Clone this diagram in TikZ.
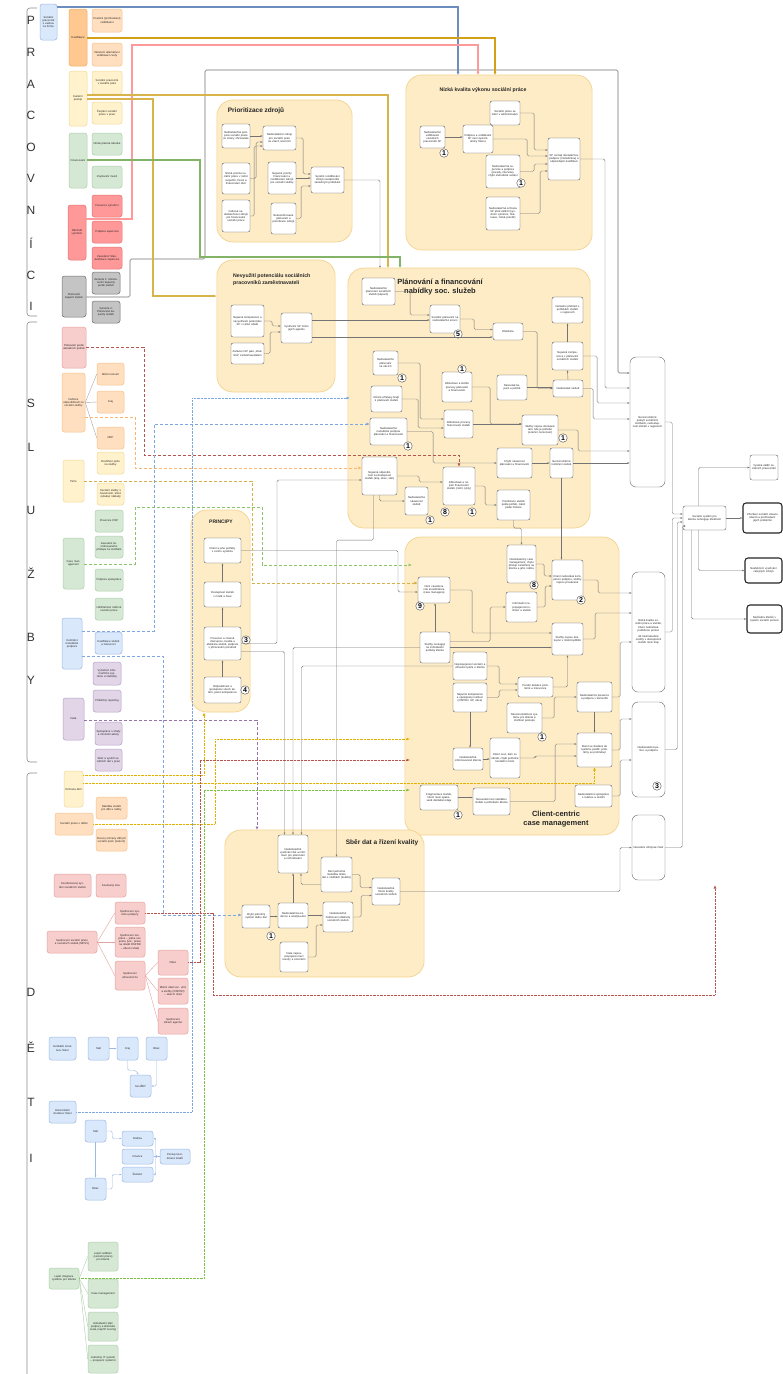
\documentclass[tikz,border=0pt]{standalone}
\usepackage{fontspec}
\setmainfont{Liberation Sans}
\usetikzlibrary{arrows.meta}
\definecolor{orF}{HTML}{FFC890}\definecolor{orD}{HTML}{F0AC68}
\definecolor{olF}{HTML}{FFDFC0}\definecolor{olD}{HTML}{F5C28F}
\definecolor{yeF}{HTML}{FFF2CC}\definecolor{yeD}{HTML}{F0DA98}
\definecolor{grF}{HTML}{D5E8D4}\definecolor{grD}{HTML}{AFCFAA}
\definecolor{rdF}{HTML}{FF9999}\definecolor{rdD}{HTML}{E87070}
\definecolor{pkF}{HTML}{F8CECC}\definecolor{pkD}{HTML}{E3A3A0}
\definecolor{gyF}{HTML}{C4C4C4}\definecolor{gyD}{HTML}{707070}
\definecolor{blF}{HTML}{DAE8FC}\definecolor{blD}{HTML}{9DB9E3}
\definecolor{puF}{HTML}{E1D5E7}\definecolor{puD}{HTML}{B8A2C8}
\definecolor{grpF}{HTML}{FDECC6}\definecolor{grpD}{HTML}{F3D38E}
\definecolor{lnBlue}{HTML}{6C8EBF}\definecolor{lnGold}{HTML}{D4A017}
\definecolor{lnGold2}{HTML}{D9B44A}\definecolor{lnPink}{HTML}{FF9A9A}
\definecolor{lnGreen}{HTML}{82B366}
\definecolor{dRed}{HTML}{B85450}\definecolor{dOr}{HTML}{FFB570}
\definecolor{dGold}{HTML}{D6B04A}\definecolor{dGreen}{HTML}{8CC46A}
\definecolor{dBlue}{HTML}{7EA6E0}\definecolor{dPur}{HTML}{9673A6}
\definecolor{dtGold}{HTML}{E3B000}\definecolor{dtGreen}{HTML}{7DC142}
\newcommand\mybox[7]{%
 \pgfmathsetmacro\mbW{#5-#3}\pgfmathsetmacro\mbH{#6-#4}%
 \pgfmathsetmacro\mbX{(#3+#5)/2}\pgfmathsetmacro\mbY{(#4+#6)/2}%
 \pgfmathsetmacro\mbT{max(#5-#3-2.4,2)}%
 \node[#1,minimum width=\mbW pt,minimum height=\mbH pt,text width=\mbT pt] (#2) at (\mbX,\mbY) {#7};}
\tikzset{
 lt/.style={font=\fontsize{2.75}{3.15}\selectfont, align=center, inner sep=0.6pt, text=black!85},
 wb/.style={lt, draw=black!70, fill=white, rounded corners=2pt, line width=0.35pt},
 wbr/.style={lt, draw=black!60, fill=white, rounded corners=6pt, line width=0.4pt},
 wbt/.style={lt, draw=black!85, fill=white, rounded corners=3pt, line width=1.1pt},
 lc/.style 2 args={lt, draw=#2, fill=#1, rounded corners=2.5pt, line width=0.5pt},
 grp/.style={draw=grpD, fill=grpF, rounded corners=16pt, line width=0.7pt},
 gtitle/.style={font=\fontsize{6.5}{7.5}\bfseries\selectfont, align=center, text=black!85, inner sep=0pt},
 badge/.style={circle, draw=black!70, fill=white, inner sep=0pt, minimum size=8.5pt, font=\fontsize{7}{7}\bfseries\selectfont},
 letter/.style={font=\fontsize{12}{12}\selectfont, text=black!80, inner sep=0pt},
 brk/.style={draw=black!45, line width=0.6pt, rounded corners=3pt},
 gl/.style={draw=black!55, line width=0.4pt, -{Latex[length=2.2pt,width=1.8pt]}, rounded corners=1.5pt},
 cl/.style={line width=1.1pt, -{Latex[length=3pt,width=3pt]}},
 dl/.style={line width=1pt, dash pattern=on 3pt off 2pt, -{Latex[length=3.5pt,width=3pt]}},
 ol/.style={line width=1pt, dash pattern=on 0.6pt off 0.8pt, -{Latex[length=3.5pt,width=3pt]}},
 sl/.style={draw=black!35, line width=0.4pt},
}
\begin{document}
\begin{tikzpicture}[x=1pt,y=-1pt]
\useasboundingbox[fill=white] (0,0) rectangle (783,1374);
% ---------- brackets and letters
\draw[brk] (37,8) -- (27,8) -- (27,316) -- (37,316);
\draw[brk] (37,322) -- (27,322) -- (27,762) -- (37,762);
\draw[brk] (37,773) -- (27,773) -- (27,1380);
\foreach \l/\yy [count=\i] in {P/20,R/52,A/84,C/115,O/147,V/178,N/210,Í/243,C/275,I/306}
  \node[letter] (lp\i) at (31,\yy) {\l};
\foreach \l/\yy [count=\i] in {S/403,L/447,U/510,Ž/573,B/637,Y/680}
  \node[letter] (ls\i) at (31,\yy) {\l};
\foreach \l/\yy [count=\i] in {D/992,Ě/1047,T/1102,I/1158}
  \node[letter] (ld\i) at (31,\yy) {\l};
% ---------- PRACOVNICI
\mybox{lc={blF}{blD}}{L0}{40}{4}{57}{40}{Sociální pracovník s vazbou na formu}
\mybox{lc={orF}{orD}}{L1}{69}{9}{87}{66}{Kvalifikace}
\mybox{lc={olF}{olD}}{L1a}{92}{9}{122}{32}{Posílení (prohloubení) vzdělávání}
\mybox{lc={olF}{olD}}{L1b}{92}{43}{122}{66}{Zkrácení alternativní vzdělávací cesty}
\mybox{lc={yeF}{yeD}}{L2}{69}{71}{87}{126}{Kariérní postup}
\mybox{lc={yeF}{yeD}}{L2a}{92}{71}{122}{94}{Sociální pracovník v sociální práci}
\mybox{lc={yeF}{yeD}}{L2b}{92}{102}{122}{124}{Čerpání sociální práce v praxi}
\mybox{lc={grF}{grD}}{L3}{69}{133}{87}{188}{Financování}
\mybox{lc={grF}{grD}}{L3a}{92}{133}{122}{155}{Nízká platová tabulka}
\mybox{lc={grF}{grD}}{L3b}{92}{166}{122}{188}{Zvyšování mezd}
\mybox{lc={rdF}{rdD}}{L4}{68}{205}{86}{260}{Odchod/ vyhoření}
\mybox{lc={rdF}{rdD}}{L4a}{92}{195}{122}{217}{Prevence vyhoření}
\mybox{lc={rdF}{rdD}}{L4b}{92}{221}{122}{243}{Podpora supervize}
\mybox{lc={rdF}{rdD}}{L4c}{92}{247}{122}{269}{Zavedení/ Standardizace supervize}
\mybox{lc={gyF}{gyD}}{L5}{62}{276}{86}{317}{Plánování kapacit služeb}
\mybox{lc={gyF}{gyD}}{L5a}{92}{272}{120}{294}{Varianta 1: Meziresortní kapacity podle služeb}
\mybox{lc={gyF}{gyD}}{L5b}{92}{301}{120}{323}{Varianta 2: Plánované kapacity služeb}
% ---------- SLUZBY
\mybox{lc={pkF}{pkD}}{S1}{62}{327}{86}{368}{Plánování podle aktuálních potřeb}
\mybox{lc={olF}{olD}}{S2}{62}{373}{85}{432}{Definice odpovědnosti za sociální služby}
\mybox{lc={olF}{olD}}{S2a}{97}{363}{124}{385}{Místní úroveň}
\mybox{lc={olF}{olD}}{S2b}{97}{391}{124}{413}{Kraj}
\mybox{lc={olF}{olD}}{S2c}{97}{427}{124}{449}{ORP}
\draw[sl] (S2.east) -- (S2a.west); \draw[sl] (S2.east) -- (S2b.west); \draw[sl] (S2.east) -- (S2c.west);
\mybox{lc={yeF}{yeD}}{S3}{63}{460}{84}{502}{Péče}
\mybox{lc={yeF}{yeD}}{S3a}{97}{452}{124}{474}{Rozšíření péče na služby}
\mybox{lc={yeF}{yeD}}{S3b}{97}{483}{124}{505}{Sociální služby s návazností, které vyžadují náklady}
\mybox{lc={grF}{grD}}{S4}{63}{538}{84}{589}{Case management}
\mybox{lc={grF}{grD}}{S4a}{95}{510}{123}{532}{Prevence OSP}
\mybox{lc={grF}{grD}}{S4b}{95}{536}{123}{558}{Zavedení koordinovaného přístupu ke službám}
\mybox{lc={grF}{grD}}{S4c}{95}{569}{123}{591}{Podpora spolupráce}
\mybox{lc={grF}{grD}}{S4d}{95}{598}{123}{620}{Udržitelnost rodinné sociální práce}
\mybox{lc={blF}{blD}}{S5}{62}{618}{82}{669}{Centrální metodická podpora}
\mybox{lc={blF}{blD}}{S5a}{95}{632}{122}{654}{Kvalifikace služeb a intervencí}
\mybox{lc={puF}{puD}}{S6a}{93}{662}{121}{685}{Vytvoření informačního systému a statistiky}
\mybox{lc={puF}{puD}}{S6b}{93}{690}{121}{712}{Průběžný reporting}
\mybox{lc={puF}{puD}}{S6}{63}{698}{84}{740}{Data}
\mybox{lc={puF}{puD}}{S6c}{95}{722}{122}{745}{Spolupráce s úřady a místními aktéry}
\mybox{lc={puF}{puD}}{S6d}{95}{749}{122}{771}{Sběr a využití sociálních dat v praxi}
% ---------- DETI
\mybox{lc={yeF}{yeD}}{D1}{64}{771}{83}{807}{Ochrana dětí}
\mybox{lc={olF}{olD}}{D2}{55}{813}{93}{835}{Sociální práce s dětmi}
\mybox{lc={olF}{olD}}{D2a}{96}{797}{127}{819}{Nabídka služeb pro děti a rodiny}
\mybox{lc={olF}{olD}}{D2b}{96}{829}{127}{851}{Rozvoj ochrany dětí při sociální práci (terénní)}
\mybox{lc={pkF}{pkD}}{D3}{54}{874}{91}{897}{Koordinovaný systém sociálních služeb}
\mybox{lc={pkF}{pkD}}{D3a}{96}{874}{126}{897}{Současný stav}
\mybox{lc={pkF}{pkD}}{D4}{47}{931}{97}{953}{Sjednocení sociální práce a sociálních služeb (MPSV)}
\mybox{lc={pkF}{pkD}}{D4a}{115}{902}{145}{924}{Sjednocení systému podpory}
\mybox{lc={pkF}{pkD}}{D4b}{115}{927}{145}{957}{Sjednocení soc. práce – jedna soc. práce (soc. práce na úřadě OSPOD – obecní úřad)}
\mybox{lc={pkF}{pkD}}{D4c}{115}{961}{145}{990}{Sjednocení zdravotnictví}
\mybox{lc={pkF}{pkD}}{D5a}{158}{950}{188}{975}{Obec}
\mybox{lc={pkF}{pkD}}{D5b}{158}{978}{188}{1004}{Místní úřad soc. věcí a služby (OSPOD) – obecní úřad}
\mybox{lc={pkF}{pkD}}{D5c}{158}{1008}{188}{1034}{Sjednocení zdraví/ agentur}
\draw[sl,draw=pkD] (D4.east) -- (D4a.west); \draw[sl,draw=pkD] (D4.east) -- (D4b.west); \draw[sl,draw=pkD] (D4.east) -- (D4c.west);
\draw[sl,draw=pkD] (D4c.east) -- (D5a.west); \draw[sl,draw=pkD] (D4c.east) -- (D5b.west); \draw[sl,draw=pkD] (D4c.east) -- (D5c.west);
\mybox{lc={blF}{blD}}{E1}{49}{1037}{76}{1060}{Vertikální struktura řízení}
\mybox{lc={blF}{blD}}{E1a}{88}{1037}{109}{1060}{Stát}
\mybox{lc={blF}{blD}}{E1b}{117}{1037}{138}{1060}{Kraj}
\mybox{lc={blF}{blD}}{E1c}{146}{1037}{167}{1060}{Obec}
\mybox{lc={blF}{blD}}{E1d}{130}{1075}{151}{1097}{SLUŽBY}
\draw[gl,draw=blD] (E1a.east) -- (E1b.west);
\draw[gl,draw=blD] (E1b.south) |- ++(8,10) -- ([xshift=-2pt]E1d.north);
\draw[gl,draw=blD] (E1c.south) |- (E1d.east);
\mybox{lc={blF}{blD}}{E2}{49}{1101}{76}{1123}{Horizontální struktura řízení}
\mybox{lc={blF}{blD}}{E2a}{85}{1120}{106}{1142}{Stát}
\mybox{lc={blF}{blD}}{E2b}{85}{1178}{106}{1200}{Obec}
\mybox{lc={blF}{blD}}{E2c}{122}{1131}{153}{1146}{Rodina}
\mybox{lc={blF}{blD}}{E2d}{122}{1149}{153}{1164}{Finance}
\mybox{lc={blF}{blD}}{E2e}{122}{1167}{153}{1182}{Školství}
\mybox{lc={blF}{blD}}{E2f}{160}{1149}{190}{1164}{Postup koordinace úřadů}
\draw[gl,draw=blD] (E2a.south) -- (E2b.north);
\draw[gl,draw=blD] (E2a.east) -- ++(6,0) |- (E2c.west);
\draw[gl,draw=blD] (E2b.east) -- ++(6,0) |- (E2e.west);
\draw[gl,draw=blD] (E2f.west) -- ++(-4,0) |- (E2c.east);
\draw[gl,draw=blD] (E2f.west) -- (E2d.east);
\draw[gl,draw=blD] (E2f.west) -- ++(-4,0) |- (E2e.east);
\mybox{lc={grF}{grD}}{G1}{49}{1268}{79}{1289}{Lepší integrace systému pro klienta}
\mybox{lc={grF}{grD}}{G1a}{88}{1242}{118}{1271}{Lepší vzdělání (sociální práce) pro klienta}
\mybox{lc={grF}{grD}}{G1b}{88}{1279}{118}{1308}{Case management}
\mybox{lc={grF}{grD}}{G1c}{88}{1312}{118}{1341}{Individuální plán podpory a klientská cesta (napříč resorty)}
\mybox{lc={grF}{grD}}{G1d}{88}{1345}{118}{1373}{Jednotný IT systém – propojení systémů}
\foreach \t in {G1a,G1b,G1c,G1d} \draw[sl,draw=grD] (G1.east) -- (\t.west);
% ---------- groups
\mybox{grp}{gP}{219}{100}{350}{242}{}
\mybox{grp}{gN}{408}{75}{590}{250}{}
\mybox{grp}{gV}{219}{260}{333}{392}{}
\mybox{grp}{gPl}{350}{268}{588}{528}{}
\mybox{grp}{gPr}{193}{510}{248}{712}{}
\mybox{grp}{gC}{407}{537}{617}{835}{}
\mybox{grp}{gS}{227}{830}{422}{977}{}
\node[gtitle] (tP) at (256,111) {Prioritizace zdrojů};
\node[gtitle,font=\fontsize{5.2}{6}\bfseries\selectfont] (tN) at (483,90) {Nízká kvalita výkonu sociální práce};
\node[gtitle,font=\fontsize{5.2}{7}\bfseries\selectfont,align=left,anchor=west] (tV) at (233,280) {Nevyužití potenciálu sociálních\\pracovníků zaměstnavateli};
\node[gtitle,font=\fontsize{7.5}{9}\bfseries\selectfont] (tPl) at (440,287) {Plánování a financování\\nabídky soc. služeb};
\node[gtitle,font=\fontsize{5}{6}\bfseries\selectfont] (tPr) at (221,522) {PRINCIPY};
\node[gtitle,font=\fontsize{7.5}{9}\bfseries\selectfont] (tC) at (556,819) {Client-centric\\case management};
\node[gtitle] (tS) at (382,843) {Sběr dat a řízení kvality};
% ---------- Prioritizace
\mybox{wb}{pa}{222}{124}{250}{148}{Nedostatečná podpora sociální práce ze strany zřizovatele}
\mybox{wb}{pb}{222}{163}{250}{194}{Nízká priorita sociální práce v rámci rozpočtů, řízení a financování obcí}
\mybox{wb}{pc}{222}{200}{250}{232}{Celková nedostatečnost zdrojů pro financování sociální práce}
\mybox{wb}{pd}{263}{126}{296}{150}{Nedostatečné zdroje pro sociální práci na všech úrovních}
\mybox{wb}{pe}{268}{162}{296}{194}{Nejasné priority financování a rozdělování zdrojů pro sociální služby}
\mybox{wb}{pf}{271}{203}{296}{234}{Nekoordinované plánování a prioritizace zdrojů}
\mybox{wb}{pg}{311}{167}{344}{193}{Systém rozdělování zdrojů neodpovídá skutečným potřebám}
\draw[gl] (pa.east) -- (pa.east -| pd.west);
\draw[gl] (pb.east) -- ++(6,0) |- ([yshift=-4pt]pd.west);
\draw[gl] (pc.east) -- ++(4,0) |- ([yshift=-8pt]pd.west);
\draw[gl] (pd.east) -- ++(7,0) |- ([yshift=6pt]pg.west);
\draw[gl] (pe.east) -- (pe.east -| pg.west);
\draw[gl] (pf.east) -- ++(5,0) |- ([yshift=-6pt]pg.west);
% ---------- Nizka kvalita
\mybox{wb}{na}{420}{126}{445}{148}{Nedostatečné vzdělávání sociálních pracovníků SP}
\mybox{wb}{nb}{463}{125}{493}{153}{Podpora a vzdělávání SP není systematicky řízena}
\mybox{wb}{nc}{490}{101}{520}{125}{Sociální práce se mění v administrativu}
\mybox{wb}{nd}{486}{155}{520}{188}{Nedostatečná supervize a podpora (porady, intervize), chybí metodické vedení}
\mybox{wb}{ne}{486}{197}{520}{230}{Nedostatečná ochrana SP před zátěží (syndrom vyhoření, fluktuace, nízká prestiž)}
\mybox{wb}{nf}{548}{138}{580}{180}{SP nemají dostatečnou podporu (metodickou) a odpovídající kvalifikaci}
\node[badge] (bn1) at (444,153) {1};
\node[badge] (bn2) at (521,183) {1};
\draw[gl] (na.east) -- (na.east -| nb.west);
\draw[gl] (nb.east) -- ++(34,0) |- ([yshift=3pt]nf.west);
\draw[gl] (nc.east) -- ++(14,0) |- ([yshift=9pt]nf.west);
\draw[gl] (nd.east) -- ++(14,0) |- ([yshift=-5pt]nf.west);
\draw[gl] (ne.east) -- ++(20,0) |- ([yshift=-12pt]nf.west);
% ---------- Nevyuziti
\mybox{wb}{va}{231}{305}{264}{337}{Nejasné kompetence a nevyužívání potenciálu SP v rámci úřadů}
\mybox{wb}{vb}{231}{343}{264}{364}{Zařazení SP jako „úředníků“ zaměstnavatelem}
\mybox{wb}{vc}{281}{313}{312}{343}{Využívání SP mimo jejich agendu}
\draw[gl] (va.east) -- ++(8,0) |- ([yshift=2pt]vc.west);
\draw[gl] (vb.east) -- ++(6,0) |- ([yshift=-4pt]vc.west);
% ---------- Planovani
\mybox{wb}{p1}{362}{278}{395}{305}{Nedostatečné plánování sociálních služeb (kapacit)}
\mybox{wb}{p2}{430}{305}{460}{333}{Sociální plánování na nedostatečné úrovni}
\mybox{wb}{p3}{493}{323}{523}{340}{Efektivita}
\mybox{wb}{p4}{552}{297}{583}{323}{Nemáme přehled o potřebách služeb v regionech}
\mybox{wb}{p5}{552}{342}{583}{370}{Nejasné kompetence v plánování sociálních služeb}
\mybox{wb}{p6}{553}{380}{583}{397}{Nedostatek služeb}
\mybox{wb}{p7}{373}{351}{398}{375}{Nedostatečné plánování na obcích}
\mybox{wb}{p8}{371}{386}{402}{412}{Různé přístupy krajů k plánování služeb}
\mybox{wb}{p9}{442}{372}{472}{402}{Zdlouhavé a složité procesy plánování a financování}
\mybox{wb}{p10}{497}{375}{527}{400}{Nesoulad kapacit a potřeb}
\mybox{wb}{p11}{444}{410}{473}{438}{Zdlouhavé procesy financování služeb}
\mybox{wb}{p12}{370}{418}{407}{445}{Nedostatečná metodická podpora plánování a financování}
\mybox{wb}{p13}{522}{415}{558}{445}{Služby nejsou dostupné tam, kde je potřeba (územní nerovnost)}
\mybox{wb}{p14}{362}{457}{397}{495}{Nejasná odpovědnost za dostupnost služeb (kraj, obec, stát)}
\mybox{wb}{p15}{405}{487}{428}{515}{Nedostatečná návaznost služeb}
\mybox{wb}{p16}{443}{467}{475}{505}{Zdlouhavé a nejisté financování služeb (roční cykly)}
\mybox{wb}{p17}{497}{448}{532}{478}{Chybí návaznost plánování a financování}
\mybox{wb}{p18}{550}{448}{573}{478}{Nerovnoměrné rozložení služeb}
\mybox{wb}{p19}{497}{490}{530}{520}{Prioritizace služeb podle potřeb, nikoli podle historie}
\node[badge] (bp5) at (458,334) {5};
\node[badge] (bp7) at (402,378) {1};
\node[badge] (bp9) at (462,369) {1};
\node[badge] (bp12) at (408,446) {1};
\node[badge] (bp13) at (563,438) {1};
\node[badge] (bp15) at (430,520) {1};
\node[badge] (bp16a) at (445,512) {8};
\node[badge] (bp16b) at (472,512) {1};
\draw[gl] (p1.east) -- ++(15,0) |- ([yshift=4pt]p2.west);
\draw[gl] (p2.east) -- ++(14,0) |- ([yshift=2pt]p3.west);
\draw[gl] (p3.east) -- ++(14,0) |- (p6.west);
\draw[gl] (p6.north) -- (p5.south);
\draw[gl] (p5.north) -- (p4.south);
\draw[gl] (p10.east) -- (p6.west |- p10.east);
\draw[gl] (p7.east) -- ++(22,0) |- ([yshift=5pt]p11.west);
\draw[gl] (p8.east) -- ++(16,0) |- ([yshift=-4pt]p11.west);
\draw[gl] (p9.east) -- ++(18,0) |- ([yshift=6pt]p13.west);
\draw[gl] (p11.east) -- (p13.west |- p11.east);
\draw[gl] (p12.east) -- ++(26,0) |- (p17.west);
\draw[gl] (p14.south) |- (p15.west);
\draw[gl] (p14.east) -- ++(22,0) |- ([yshift=4pt]p16.west);
\draw[gl] (p16.east) -- ++(10,0) |- (p19.west);
\draw[gl] (p17.east) -- (p18.west |- p17.east);
% ---------- PRINCIPY
\mybox{wb}{q1}{204}{538}{241}{563}{Klient a jeho potřeby v centru systému}
\mybox{wb}{q2}{204}{582}{241}{607}{Dostupnost služeb v místě a čase}
\mybox{wb}{q3}{204}{627}{241}{660}{Prevence a včasná intervence, kvalita a efektivita služeb, podpora v přirozeném prostředí}
\mybox{wb}{q4}{204}{677}{241}{703}{Odpovědnost a spolupráce všech aktérů, jasné kompetence}
\node[badge] (bq3) at (246,640) {3};
\node[badge] (bq4) at (245,690) {4};
\draw[gl] (q4.north) -- (q3.south);
\draw[gl] (q3.north) -- (q2.south);
\draw[gl] (q2.north) -- (q1.south);
% ---------- Client-centric
\mybox{wb}{c1}{507}{545}{536}{583}{Nedostatečný case management, chybí přístup zaměřený na klienta a jeho rodinu}
\mybox{wb}{c2}{552}{560}{583}{600}{Klient nedostává komplexní podporu, služby nejsou provázané}
\mybox{wb}{c3}{506}{592}{537}{622}{Informační nepropojenost institucí a služeb}
\mybox{wb}{c4}{418}{577}{450}{603}{Není zavedena role koordinátora (case managera)}
\mybox{wb}{c5}{420}{632}{450}{663}{Služby nereagují na individuální potřeby klienta}
\mybox{wb}{c6}{552}{623}{583}{655}{Služby nejsou dostupné v místě bydliště}
\mybox{wb}{c7}{453}{652}{487}{680}{Nepropojenost sociální a zdravotní péče o klienta}
\mybox{wb}{c8}{518}{677}{553}{697}{Pozdní detekce problémů a intervence}
\mybox{wb}{c9}{453}{683}{487}{712}{Nejasné kompetence a spolupráce institucí (OSPOD, ÚP, obce)}
\mybox{wb}{c10}{507}{703}{542}{733}{Nesrozumitelnost systému pro klienta a složitost postupů}
\mybox{wb}{c11}{577}{682}{612}{712}{Nedostatečná prevence a podpora v komunitě}
\mybox{wb}{c12}{453}{748}{483}{770}{Nedostatečná informovanost klienta}
\mybox{wb}{c13}{490}{738}{520}{778}{Klient neví, kam se obrátit, chybí jednotné kontaktní místo}
\mybox{wb}{c14}{577}{733}{612}{767}{Klient se dostává do systému pozdě, problémy se prohlubují}
\mybox{wb}{c15}{420}{785}{458}{810}{Fragmentace služeb, klient musí opakovaně dokládat údaje}
\mybox{wb}{c16}{473}{788}{510}{815}{Nesoulad mezi nabídkou služeb a potřebami klienta}
\mybox{wb}{c17}{575}{785}{612}{807}{Nedostatečná spolupráce s rodinou a okolím}
\node[badge] (bc1) at (534,585) {8};
\node[badge] (bc2) at (581,600) {2};
\node[badge] (bc4) at (420,606) {9};
\node[badge] (bc10) at (542,737) {1};
\node[badge] (bc15) at (458,815) {1};
\draw[gl] (c1.east) -- ++(8,0) |- ([yshift=4pt]c2.west);
\draw[gl] (c3.east) -- ++(8,0) |- ([yshift=-6pt]c2.west);
\draw[gl] (c5.north) -- (c5.north |- c4.south);
\draw[gl] (c4.east) -- ++(22,0) |- ([yshift=6pt]c6.west);
\draw[gl] (c5.east) -- (c6.west |- c5.east);
\draw[gl] ([yshift=6pt]c5.east) -- ++(40,0) |- (c3.west);
\draw[gl] (c7.east) -- ++(12,0) |- ([yshift=3pt]c8.west);
\draw[gl] (c9.east) -- ++(12,0) |- ([yshift=-3pt]c8.west);
\draw[gl] (c8.east) -| (c6.south);
\draw[gl] (c9.south) -- (c9.south |- c12.north);
\draw[gl] (c12.east) -- (c13.west |- c12.east);
\draw[gl] (c10.east) -- ++(12,0) |- (c11.west);
\draw[gl] (c11.south) -- (c14.north);
\draw[gl] (c13.east) -- ++(15,0) |- ([yshift=-6pt]c14.west);
\draw[gl] (c15.east) -- (c16.west |- c15.east);
\draw[gl] (c16.east) -- ++(45,0) |- ([yshift=6pt]c14.west);
\draw[gl] (p18.south) -- (p18.south |- c2.north);
\draw[gl] (p19.south) -- ++(0,8) -| (c1.north);
% ---------- Sber dat
\mybox{wb}{s1}{278}{835}{308}{873}{Nedostatečné využívání dat a informací pro plánování a rozhodování}
\mybox{wb}{s2}{321}{857}{352}{892}{Není jednotná metodika sběru dat o službách (kvalita)}
\mybox{wb}{s3}{372}{878}{400}{905}{Nedostatečné řízení kvality sociálních služeb}
\mybox{wb}{s4}{242}{905}{270}{928}{Chybí jednotný systém sběru dat}
\mybox{wb}{s5}{278}{903}{308}{928}{Nedostatečná evidence a analýza dat}
\mybox{wb}{s6}{323}{902}{353}{932}{Nedostatečné hodnocení efektivity sociálních služeb}
\mybox{wb}{s7}{280}{942}{308}{972}{Data nejsou propojená mezi resorty a úrovněmi}
\node[badge] (bs4) at (271,936) {1};
\draw[gl] (s4.east) -- (s5.west |- s4.east);
\draw[gl] (s5.east) -- (s6.west |- s5.east);
\draw[gl] (s5.north) -- (s1.south);
\draw[gl] ([yshift=-10pt]s2.west) -| ([xshift=8pt]s1.south);
\draw[gl] (s2.east) -- ++(8,0) |- ([yshift=4pt]s3.west);
\draw[gl] (s6.east) -- ++(8,0) |- ([yshift=-4pt]s3.west);
\draw[gl] (s7.east) -- ++(8,0) |- ([yshift=-8pt]s6.west);
% ---------- right column
\mybox{wbr}{r1}{630}{357}{665}{487}{Nerovnoměrné pokrytí sociálními službami, nedostupnost služeb v regionech}
\mybox{wb}{r2}{683}{506}{726}{530}{Sociální systém pro klienta nefunguje efektivně}
\mybox{wb}{r3}{750}{455}{778}{480}{Vysoká zátěž sociálních pracovníků}
\mybox{wbt}{r4}{743}{503}{782}{533}{Zhoršení sociální situace klientů a prohloubení jejich problémů}
\mybox{wbt}{r5}{745}{558}{782}{583}{Neefektivní využívání veřejných zdrojů}
\mybox{wbt}{r6}{747}{605}{782}{633}{Nedůvěra klientů v systém sociální pomoci}
\mybox{wbr}{r7}{632}{572}{665}{692}{Nízká kvalita sociální práce a služeb, klient nedostává potřebnou pomoc\\[3pt]Až šestinásobné rozdíly v dostupnosti služeb mezi kraji}
\mybox{wbr}{r8}{632}{702}{665}{797}{Nedostatečná pomoc a podpora}
\mybox{wbr}{r9}{632}{815}{665}{880}{Nevedení zdrojové části}
\node[badge] (br8) at (657,786) {3};
\draw[gl] (r1.east) -- ++(7,0) |- ([yshift=4pt]r2.west);
\draw[gl] (r7.east) -- ++(7,0) |- (r2.west);
\draw[gl] (r8.east) -- ++(12,0) |- ([yshift=-4pt]r2.west);
\draw[gl] (r9.east) -- ++(17,0) |- ([yshift=-8pt]r2.west);
\draw[gl] ([xshift=-6pt]r2.north) |- (r3.west);
\draw[gl] (r2.east) -- (r4.west |- r2.east);
\draw[gl] ([xshift=-6pt]r2.south) |- (r5.west);
\draw[gl] ([xshift=-13pt]r2.south) |- (r6.west);
% ---------- gray connectors between groups
\coordinate (plTop1) at (380,268);
\coordinate (plTop2) at (388,268);
\coordinate (plTop3) at (400,268);
\draw[gl,line width=0.6pt] (L5.east |- 0,297) -| (130,259) -| (205,70) -| (618,373) -- (r1.west |- 0,373);
\draw[gl] (pg.east) -| (plTop1);
\draw[gl] ([yshift=8pt]vc.east) -- (p2.west |- 0,320);
\draw[gl] ([yshift=-9pt]vc.east) -- (p3.west |- 0,337);
\draw[gl] (nf.east) -- (605,159) |- (r1.west |- 0,388);
\draw[gl] (p5.east) -- ++(14,0) |- (r1.west |- 0,403);
\draw[gl] (p6.east) -- ++(10,0) |- (r1.west |- 0,419);
\draw[gl] (p13.east) -- ++(20,0) |- (r1.west |- 0,451);
\draw[gl] (p18.east) -- (r1.west |- p18.east);
\draw[gl] (c2.east) -- ++(15,0) |- (r7.west |- 0,593);
\draw[gl] (c6.east) -- ++(12,0) |- (r7.west |- 0,613);
\draw[gl] (c11.east) -- ++(8,0) |- (r7.west |- 0,642);
\draw[gl] (c14.east) -- ++(8,0) |- (r8.west |- 0,719);
\draw[gl] (c17.east) -- ++(8,0) |- (r8.west |- 0,760);
\draw[gl] (q1.east) -| (398,592) -- (c4.west |- 0,592);
\draw[gl] (q3.east) -| (277,480) -- (p14.west |- 0,480);
\draw[gl] ([yshift=-8pt]q3.east) -| ([xshift=-8.5pt]s1.north);
\draw[gl] (c5.west) -| (s1.north);
\draw[gl] (c7.west) -| ([xshift=8.5pt]s1.north);
\draw[gl] ([xshift=-6pt]p14.south) -- ++(0,45) -| (s2.north);
\draw[gl] (s3.east) -- (620,891.5) |- (r9.west);
% ---------- coloured solid connectors
\coordinate (nTop1) at (458,75);
\coordinate (nTop2) at (478,75);
\coordinate (nTop3) at (495,75);
\draw[cl,lnBlue] (L0.east |- 0,7) -| (nTop1);
\draw[cl,lnGold] (L1.east |- 0,38) -| (nTop3);
\draw[cl,lnPink] (L4.east |- 0,219) -| (132,45) -| (nTop2);
\draw[cl,lnGold2] (L2.east |- 0,95) -| (plTop2);
\draw[cl,lnGold2] (L2.east |- 0,99) -| (153,296) -- (gV.west |- 0,296);
\draw[cl,lnGreen] (L3.east |- 0,160) -| (200,257) -| (plTop3);
% ---------- dashed connectors
\coordinate (cIn1) at (412,565);
\coordinate (sTop) at (257,830);
\draw[dl,dRed] (S1.east |- 0,347) -| (144,455) -| (p16.north);
\draw[dl,dOr] (S2.east |- 0,417) -| (135,468) -- (p14.west |- 0,468);
\draw[dl,dGold] (S3.east |- 0,481) -| (252,583) -- (c4.west |- 0,583);
\draw[dl,dGreen] (S4.east |- 0,564) -| (135,507) -| (262,565) -- (cIn1);
\draw[dl,dBlue] (S5.east |- 0,631) -| (154,424) -- (p12.west |- 0,424);
\draw[dl,dBlue] (S5.east |- 0,656) -| (163,915) -- (s4.west |- 0,915);
\draw[dl,dPur] (S6.east |- 0,720) -| (sTop);
% ---------- dotted connectors
\coordinate (plIn) at (350,398);
\coordinate (cIn2) at (410,739);
\coordinate (cIn3) at (410,760);
\coordinate (cIn4) at (410,790);
\coordinate (rdEnd) at (715,885);
\draw[ol,dBlue] (E2.east) -| (192,398) -- (plIn);
\draw[ol,dtGold] (D1.east |- 0,775) -| (gPr.south -| 204,0);
\draw[ol,dtGold] (D2.east) -| (215,739) -- (cIn2);
\draw[ol,dtGold] (D1.east |- 0,783) -| (c14.south);
\draw[ol,dRed] (D5a.east) -| (200,760) -- (cIn3);
\draw[ol,dRed] (D4a.east) -| (213,995) -| (rdEnd);
\draw[ol,dtGreen] (G1.east) -| (204,790) -- (cIn4);
\end{tikzpicture}
\end{document}
